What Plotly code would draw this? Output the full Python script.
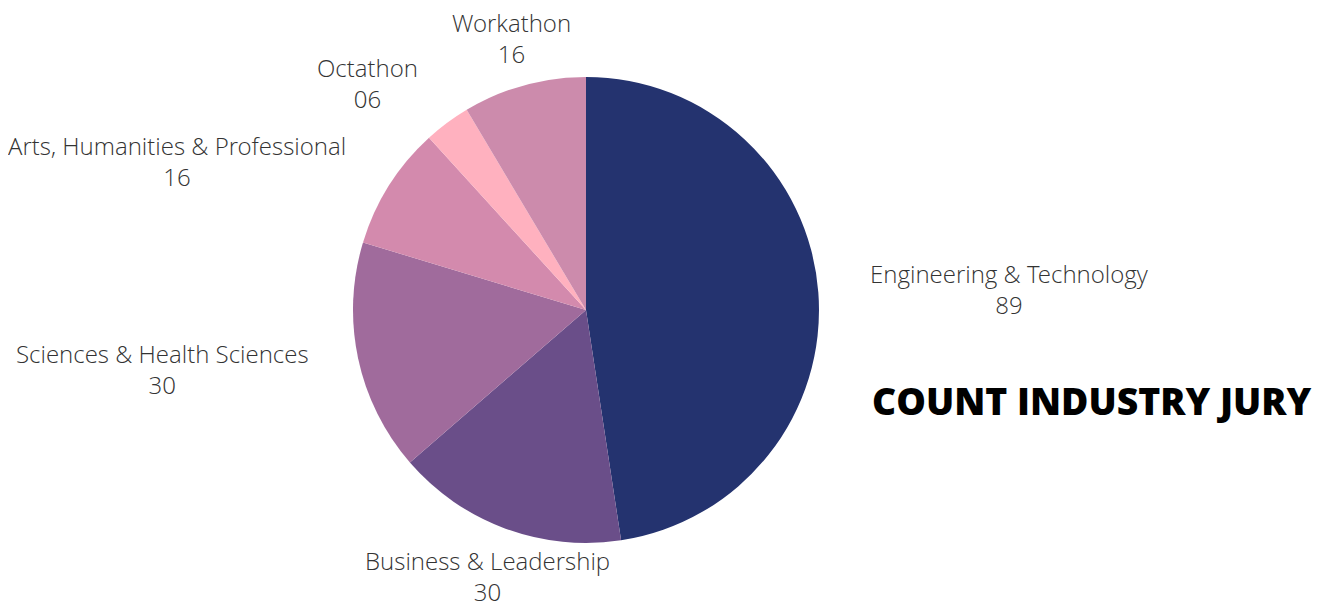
import plotly.graph_objects as go

# data
categories = ['Engineering & Technology', 'Business & Leadership', 'Sciences & Health Sciences',
              'Arts, Humanities & Professional', 'Octathon', 'Workathon']
counts = [89, 30, 30, 16, 6, 16]
colors = ['#24336F', '#6A4E89', '#A06B9C', '#D38AAD', '#FFB1BF', '#CC8BAC']

W, H = 1323, 604
OFF = 8                      # browser body margin
FW, FH = W - OFF, H - OFF    # figure reaches the right / bottom edge of the window
cx, cy, r = 586, 310, 233    # pie centre / radius, page px


def to_paper(px, py):
    return (px - OFF) / FW, 1 - (py - OFF) / FH


# where each outside label block is centred (page px), same order as categories
label_centres = [(1009, 289), (487, 576), (162, 369), (177, 161), (367, 83), (511, 38)]

x0, y1 = to_paper(cx - r, cy - r)
x1, y0 = to_paper(cx + r, cy + r)

fig = go.Figure(go.Pie(
    labels=categories,
    values=counts,
    sort=False,
    direction='clockwise',
    rotation=0,
    marker=dict(colors=colors, line=dict(width=0)),
    textinfo='none',
    hoverinfo='label+value',
    showlegend=False,
    domain=dict(x=[x0, x1], y=[y0, y1]),
))

label_font = dict(family='Open Sans Light, Open Sans', size=24, color='#333333', weight=300)
for name, v, (px, py) in zip(categories, counts, label_centres):
    ax, ay = to_paper(px, py)
    fig.add_annotation(
        x=ax, y=ay, xref='paper', yref='paper',
        text=f'{name}<br>{v:02d}', showarrow=False,
        xanchor='center', yanchor='middle', align='center',
        font=label_font,
    )

tx, ty = to_paper(1092, 400)
fig.add_annotation(
    x=tx, y=ty, xref='paper', yref='paper',
    text='COUNT INDUSTRY JURY', showarrow=False,
    xanchor='center', yanchor='middle',
    font=dict(family='Open Sans', size=37.3, color='black', weight=800),
)

fig.update_layout(
    width=FW, height=FH,
    margin=dict(l=0, r=0, t=0, b=0),
    paper_bgcolor='white', plot_bgcolor='white',
)

fig.write_html("out.html")
